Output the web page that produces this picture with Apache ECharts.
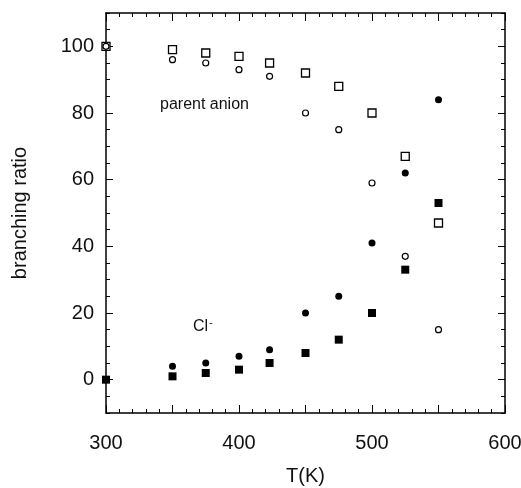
<!DOCTYPE html>
<html>
<head>
<meta charset="utf-8">
<script src="https://cdn.jsdelivr.net/npm/echarts@6/dist/echarts.min.js"></script>
<style>html,body{margin:0;padding:0;background:#fff}#c{width:521px;height:488px}</style>
</head>
<body>
<div id="c"></div>
<script>
// Data (T in K, branching ratio in %)
const temps = [300, 350, 375, 400, 423, 450, 475, 500, 525, 550];
const parentOpenSquare = [100, 99, 98, 97, 95, 92, 88, 80, 67, 47];
const parentOpenCircle = [100, 96, 95, 93, 91, 80, 75, 59, 37, 15];
const clFilledCircle   = [0, 4, 5, 7, 9, 20, 25, 41, 62, 84];
const clFilledSquare   = [0, 1, 2, 3, 5, 8, 12, 20, 33, 53];
const xTickLabels = [300, 400, 500, 600];
const yTickLabels = [0, 20, 40, 60, 80, 100];

const pair = (ys) => temps.map((t, i) => [t, ys[i]]);
const FONT = 'Liberation Sans, Arial, sans-serif';
const black = '#000';

const chart = echarts.init(document.getElementById('c'), null, {renderer: 'canvas'});

const xBase = {
  type: 'value', min: 300, max: 600, interval: 50,
  splitLine: {show: false},
  axisLine: {show: true, onZero: false, lineStyle: {color: black, width: 1.5}},
  axisTick: {show: true, inside: true, length: 8, lineStyle: {color: black, width: 1}},
  minorTick: {show: true, splitNumber: 5, length: 4, lineStyle: {color: black, width: 1}},
};
const yMinorBase = {
  type: 'value', min: -10, max: 110, interval: 5,
  splitLine: {show: false},
  axisLine: {show: true, onZero: false, lineStyle: {color: black, width: 1.5}},
  axisTick: {show: true, inside: true, length: 4, lineStyle: {color: black, width: 1}},
};
const yMajorBase = {
  type: 'value', min: -10, max: 110, interval: 10,
  splitLine: {show: false},
  axisLine: {show: false},
  axisLabel: {show: false},
  axisTick: {show: true, inside: true, length: 7, customValues: yTickLabels, lineStyle: {color: black, width: 1}},
};

chart.setOption({
  animation: false,
  backgroundColor: '#fff',
  grid: {left: 106, right: 16, top: 13, bottom: 75, containLabel: false, outerBoundsMode: 'none'},
  xAxis: [
    Object.assign({}, xBase, {
      position: 'bottom',
      name: 'T(K)', nameLocation: 'middle', nameGap: 53,
      nameTextStyle: {fontFamily: FONT, fontSize: 20, color: '#111'},
      axisLabel: {show: true, customValues: xTickLabels, margin: 20, fontFamily: FONT, fontSize: 20, color: '#111'}
    }),
    Object.assign({}, xBase, {position: 'top', axisLabel: {show: false}})
  ],
  yAxis: [
    Object.assign({}, yMinorBase, {
      position: 'left',
      name: 'branching ratio', nameLocation: 'middle', nameGap: 76, nameRotate: 90,
      nameTextStyle: {fontFamily: FONT, fontSize: 20, color: '#111'},
      axisLabel: {show: true, customValues: yTickLabels, margin: 12, fontFamily: FONT, fontSize: 20, color: '#111'}
    }),
    Object.assign({}, yMinorBase, {position: 'right', axisLabel: {show: false}}),
    Object.assign({}, yMajorBase, {position: 'left'}),
    Object.assign({}, yMajorBase, {position: 'right'})
  ],
  series: [
    {type: 'scatter', name: 'parent (square)', data: pair(parentOpenSquare), symbol: 'rect', symbolSize: 8,
      itemStyle: {color: '#fff', borderColor: black, borderWidth: 1.3, opacity: 1}, z: 3},
    {type: 'scatter', name: 'parent (circle)', data: pair(parentOpenCircle), symbol: 'circle', symbolSize: 6,
      itemStyle: {color: '#fff', borderColor: black, borderWidth: 1.2, opacity: 1}, z: 4},
    {type: 'scatter', name: 'Cl (circle)', data: pair(clFilledCircle), symbol: 'circle', symbolSize: 7,
      itemStyle: {color: black, borderWidth: 0, opacity: 1}, z: 3},
    {type: 'scatter', name: 'Cl (square)', data: pair(clFilledSquare), symbol: 'rect', symbolSize: 8,
      itemStyle: {color: black, borderWidth: 0, opacity: 1}, z: 4}
  ],
  graphic: [
    {type: 'text', x: 160, y: 105, z: 10,
      style: {text: 'parent anion', fontFamily: FONT, fontSize: 16, fill: '#111', verticalAlign: 'middle'}},
    {type: 'text', x: 193, y: 327, z: 10,
      style: {text: '{a|Cl}{b|-}', fill: '#111', verticalAlign: 'middle',
        rich: {a: {fontFamily: FONT, fontSize: 16, fill: '#111'},
               b: {fontFamily: FONT, fontSize: 11, fill: '#111', verticalAlign: 'top', padding: [0, 0, 9, 1]}}}}
  ]
});
</script>
</body>
</html>
